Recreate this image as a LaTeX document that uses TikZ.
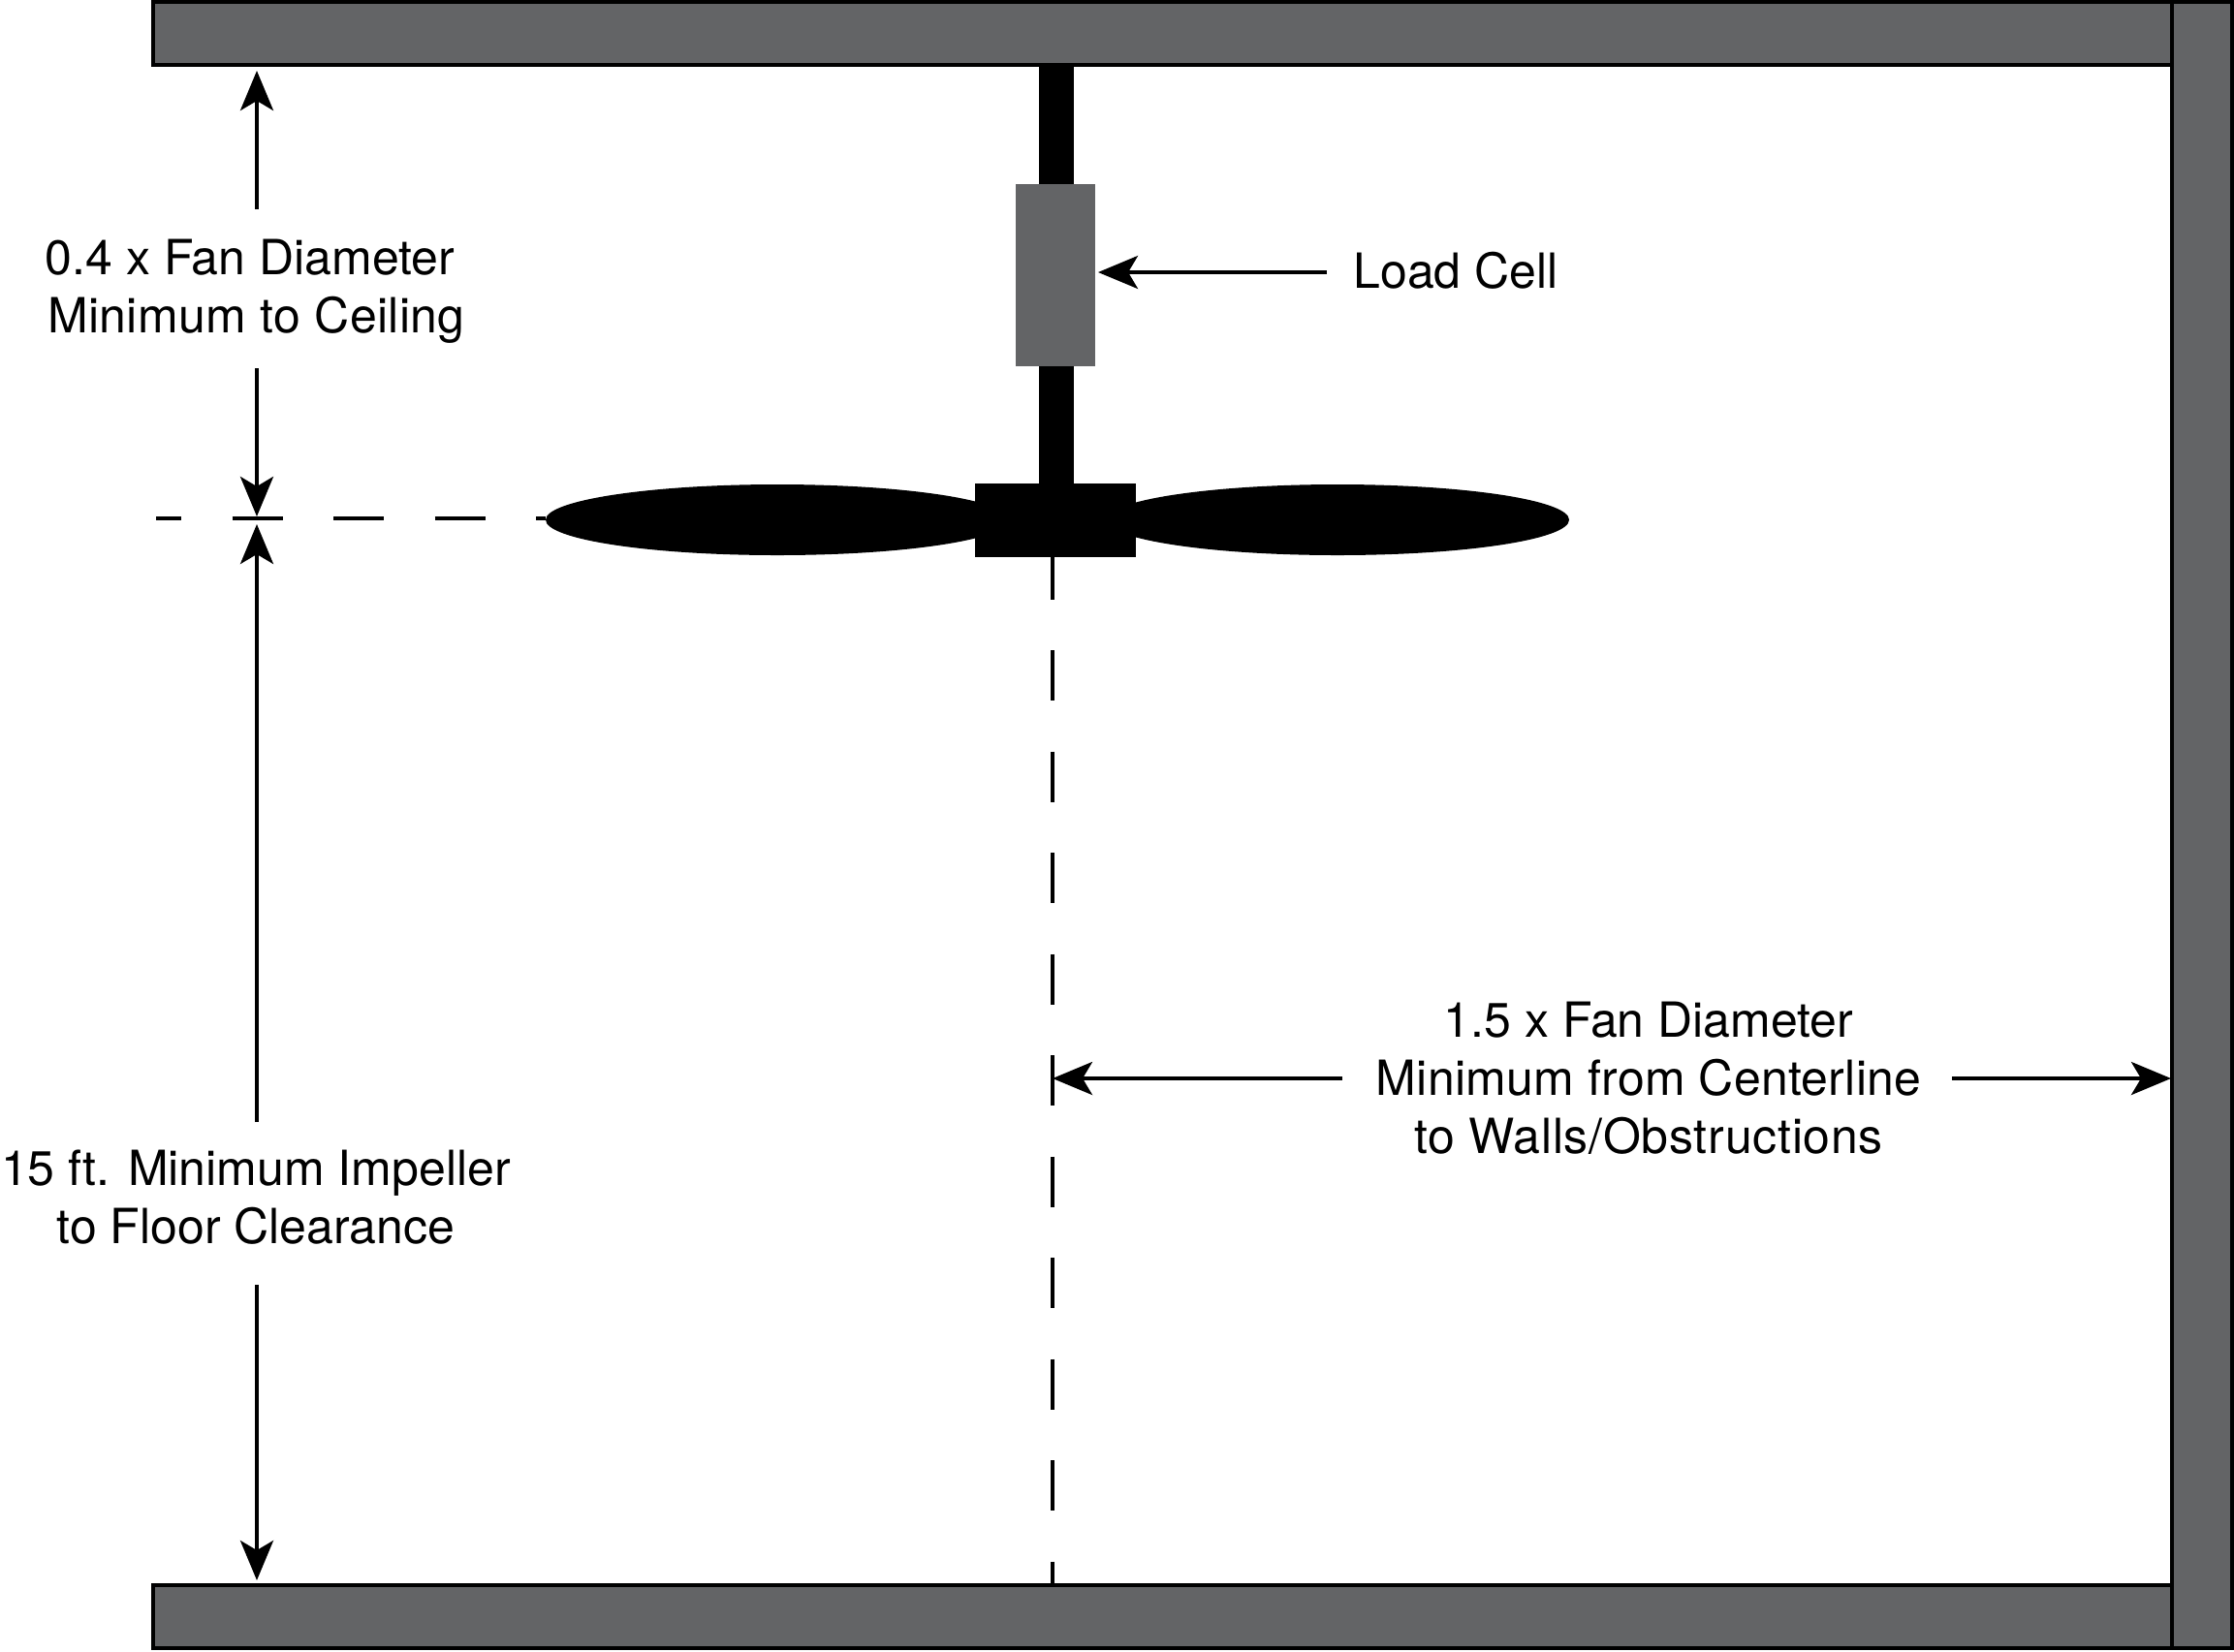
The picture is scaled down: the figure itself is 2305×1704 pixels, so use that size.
\documentclass[tikz,border=0pt]{standalone}
\usepackage{fontspec}
\setmainfont{TeX Gyre Heros}
\usetikzlibrary{arrows.meta}
\definecolor{wallgray}{HTML}{636466}
\tikzset{
  x=0.5pt,y=-0.5pt,
  wall/.style={draw=black,fill=wallgray,line width=2pt,line join=miter},
  solidblack/.style={fill=black,draw=none},
  cell/.style={fill=wallgray,draw=none,inner sep=0pt,minimum width=41pt,minimum height=94pt},
  dim/.style={line width=2pt,draw=black,-{Stealth[length=20.5pt,width=17pt,inset=5pt]}},
  cdash/.style={line width=1.75pt,draw=black,dash pattern=on 26pt off 26.25pt},
  lbl/.style={align=center,inner sep=0pt,font=\fontsize{25}{30}\selectfont}
}
\begin{document}
\begin{tikzpicture}
\useasboundingbox (0,0) rectangle (2305,1704);
% walls
\draw[wall] (158,1.5) rectangle (2241,67);
\draw[wall] (158,1636) rectangle (2241,1700.5);
\draw[wall] (2241,1.5) rectangle (2303,1700.5);
% shaft and fan
\fill[solidblack] (1072,68) rectangle (1108,500);
\node[cell] (lc) at (1089,284) {};
\fill[solidblack] (802,536.5) ellipse [x radius=239,y radius=36.5];
\fill[solidblack] (1380,536.5) ellipse [x radius=239,y radius=36.5];
\node[solidblack,inner sep=0pt,minimum width=83pt,minimum height=38pt] (hub) at (1089,537) {};
% labels
\node[lbl] (tceil) at (264.5,301) {0.4 x Fan Diameter\hspace*{6.6pt}\\{\addfontfeature{LetterSpace=0.8}Minimum to Ceiling}};
\node[lbl] (tfloor) at (264,1235.5) {15 ft. Minimum Impeller\\to Floor Clearance};
\node[lbl] (tload) at (1502,279) {Load Cell};
\node[lbl] (twall) at (1701,1113) {1.5 x Fan Diameter\\{\addfontfeature{LetterSpace=0.5}Minimum from Centerline}\\{\addfontfeature{LetterSpace=1.5}to Walls/Obstructions}};
% coordinates
\coordinate (ceil) at (265,73);
\coordinate (plane) at (265,533);
\coordinate (planeb) at (265,541);
\coordinate (floor) at (265,1631);
\coordinate (cl) at (1086,1113);
\coordinate (rw) at (2240,1113);
\coordinate (dl) at (161,535);
\coordinate (dr) at (563,535);
\coordinate (cb) at (1086,575);
\coordinate (cf) at (1086,1635);
% dimension arrows
\draw[dim] (265,215.5) -- (ceil);
\draw[dim] (265,380) -- (plane);
\draw[dim] (265,1158) -- (planeb);
\draw[dim] (265,1326) -- (floor);
\draw[dim] (1369,281) -- (1133,281);
\draw[dim] (1385,1113) -- (cl);
\draw[dim] (2014,1113) -- (rw);
% dashed centre lines
\draw[cdash,dash phase=13pt] (dl) -- (dr);
\draw[cdash,dash phase=4.25pt] (cb) -- (cf);
\end{tikzpicture}
\end{document}
